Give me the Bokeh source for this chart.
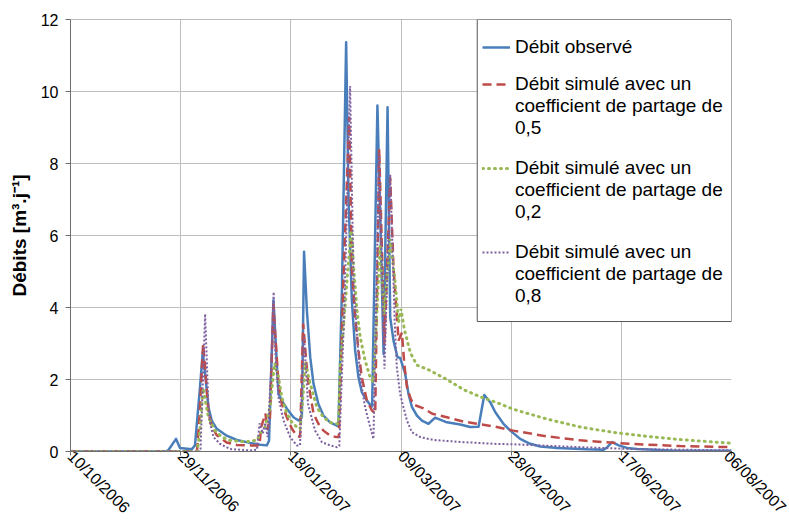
import math
from bokeh.plotting import figure
from bokeh.models import FixedTicker, Legend, LegendItem, BoxAnnotation, Span
from bokeh.embed import file_html
from bokeh.resources import INLINE

# x values: days since 10/10/2006
tick_days = [0, 50, 100, 150, 200, 250, 300]
tick_labels = ["10/10/2006", "29/11/2006", "18/01/2007", "09/03/2007",
               "28/04/2007", "17/06/2007", "06/08/2007"]
y_ticks = [0, 2, 4, 6, 8, 10, 12]

obs_day = [0, 43, 44.3, 47.9, 49.7, 55.0, 56.5, 58.8, 60.0, 61.1, 62.6, 64.1, 66.4, 70.9,
           75.5, 81.5, 86.1, 89.1, 90.1, 92.1, 92.9, 94.4, 95.9, 98.2, 101.2, 103.5, 105.0,
           106.0, 107.3, 108.8, 110.3, 112.5, 114.8, 117.8, 120.9, 121.6, 123.2, 125.1, 126.2,
           127.7, 129.2, 130.7, 132.2, 134.5, 136.0, 136.9, 139.3, 142.1, 143.9, 145.1, 146.6,
           148.4, 149.6, 151.9, 153.4, 155.0, 157.2, 159.5, 162.5, 165.5, 170.8, 176.9, 181.4,
           185.2, 187.8, 190.5, 192.8, 196.5, 199.6, 204.1, 207.9, 213.2, 220.8, 234.4, 242.0,
           243.6, 245.8, 248.8, 252.6, 257.1, 272.3, 300]
obs_val = [0, 0, 0.03, 0.35, 0.1, 0.06, 0.17, 1.8, 2.75, 2.16, 1.23, 0.86, 0.63, 0.44,
           0.32, 0.24, 0.19, 0.17, 0.3, 4.2, 3.3, 1.6, 1.42, 1.19, 0.95, 0.86, 0.95,
           5.55, 3.9, 2.62, 1.88, 1.32, 1.0, 0.81, 0.72, 0.7, 4.5, 11.37, 7.0,
           4.2, 2.8, 2.06, 1.65, 1.42, 1.3, 1.25, 9.61, 2.71, 9.56, 3.73, 3.08,
           2.62, 2.6, 2.16, 1.6, 1.23, 1.0, 0.86, 0.77, 0.94, 0.81, 0.75, 0.68,
           0.69, 1.57, 1.37, 1.09, 0.77, 0.58, 0.35, 0.23, 0.14, 0.1, 0.06, 0.05,
           0.12, 0.26, 0.17, 0.1, 0.07, 0.03, 0.02]

sim05_day = [0, 57.4, 58.6, 60.2, 61.5, 62.6, 64.1, 66.4, 70.9, 75.5, 82.0, 85.8, 86.5,
             88.5, 89.3, 90.5, 92.1, 92.9, 94.4, 95.9, 98.2, 100.5, 102.7, 104.2, 105.6,
             107.0, 108.0, 110.3, 112.5, 114.8, 117.8, 120.9, 121.8, 124.0, 126.5, 127.7,
             129.2, 130.7, 132.2, 134.5, 136.8, 138.3, 140.1, 142.5, 145.1, 146.6, 148.9,
             150.4, 151.5, 152.7, 154.2, 155.7, 160.2, 164.2, 170.8, 178.4, 185.9, 193.5,
             201.0, 216.3, 231.4, 246.5, 261.7, 276.8, 300]
sim05_val = [0, 0, 1.0, 3.0, 2.0, 1.1, 0.7, 0.45, 0.25, 0.18, 0.17, 0.17, 0.68,
             1.05, 0.6, 0.9, 4.1, 3.27, 1.88, 1.32, 0.95, 0.63, 0.44, 0.4, 3.55,
             2.5, 1.88, 1.05, 0.77, 0.58, 0.44, 0.4, 0.4, 5.0, 9.3, 5.12,
             3.73, 2.8, 2.06, 1.42, 1.14, 1.05, 8.4, 3.0, 7.6, 5.1, 3.08,
             3.3, 2.43, 1.79, 1.5, 1.3, 1.2, 1.05, 0.95, 0.83, 0.76, 0.68,
             0.58, 0.42, 0.31, 0.24, 0.19, 0.15, 0.12]

sim02_day = [0, 57.5, 58.8, 60.2, 62.6, 65.6, 68.7, 72.4, 77.0, 81.5, 84.6, 86.1, 88.3,
             90.6, 92.1, 92.7, 94.4, 95.9, 98.2, 100.5, 102.7, 104.2, 105.5, 106.5, 108.8,
             111.8, 114.8, 117.8, 120.9, 121.6, 122.4, 123.9, 125.4, 126.6, 127.3, 127.7,
             128.5, 130.0, 131.5, 133.7, 136.0, 137.5, 140.5, 142.3, 145.1, 147.4, 148.9,
             150.0, 151.5, 154.2, 157.2, 163.2, 170.8, 178.4, 185.9, 193.5, 201.1, 216.3,
             231.4, 246.5, 261.7, 276.8, 300]
sim02_val = [0, 0, 0.6, 1.75, 0.95, 0.58, 0.4, 0.31, 0.28, 0.28, 0.32, 0.49, 0.68,
             1.23, 2.16, 2.45, 2.06, 1.5, 1.05, 0.81, 0.68, 0.63, 1.5, 2.45, 1.88,
             1.23, 0.95, 0.81, 0.77, 0.77, 2.34, 3.45, 4.66, 5.58, 6.14, 6.05,
             5.12, 3.92, 3.17, 2.53, 2.06, 1.93, 5.7, 3.8, 5.9, 4.66, 3.6,
             3.96, 3.4, 2.75, 2.4, 2.25, 2.0, 1.72, 1.52, 1.36, 1.17, 0.9,
             0.68, 0.53, 0.42, 0.33, 0.23]

sim08_day = [0, 59.0, 60.1, 61.1, 61.9, 62.6, 63.4, 64.9, 67.9, 72.4, 81.5, 84.6, 85.8,
             87.3, 88.3, 89.5, 91.2, 92.2, 92.9, 94.4, 96.7, 99.7, 102.7, 104.2, 104.9,
             106.0, 107.8, 111.0, 114.1, 117.8, 120.9, 122.0, 124.3, 126.9, 128.5, 130.0,
             131.5, 133.7, 136.0, 137.5, 140.1, 142.5, 145.1, 147.2, 148.1, 149.6, 151.1,
             152.7, 154.9, 158.7, 164.8, 178.4, 193.5, 201.1, 231.4, 254.0, 300]
sim08_val = [0, 0, 2.0, 3.82, 2.43, 1.23, 0.77, 0.4, 0.21, 0.07, 0.03, 0.05, 0.78,
             0.5, 0.8, 0.4, 2.5, 4.43, 2.8, 1.5, 0.86, 0.4, 0.17, 0.17, 1.5,
             3.2, 1.32, 0.58, 0.26, 0.17, 0.12, 0.15, 4.0, 10.15, 4.66, 3.27,
             2.06, 1.23, 0.68, 0.35, 8.3, 2.3, 7.7, 3.5, 2.34, 1.6, 1.23,
             0.86, 0.54, 0.4, 0.32, 0.26, 0.21, 0.2, 0.12, 0.07, 0.03]

legend_labels = [
    "Débit observé",
    "Débit simulé avec un\ncoefficient de partage de\n0,5",
    "Débit simulé avec un\ncoefficient de partage de\n0,2",
    "Débit simulé avec un\ncoefficient de partage de\n0,8",
]

FONT = "Liberation Sans"

p = figure(width=789, height=525, output_backend="svg", toolbar_location=None,
           x_range=(0, 300), y_range=(0, 12),
           min_border_left=70, min_border_right=58, min_border_top=19, min_border_bottom=74)
p.outline_line_color = None
p.background_fill_color = "white"

r_obs = p.line(obs_day, obs_val, line_color="#4A7EBB", line_width=2.5, line_join="round")
r_05 = p.line(sim05_day, sim05_val, line_color="#BE4B48", line_width=2.5, line_dash="9 5")
r_02 = p.line(sim02_day, sim02_val, line_color="#98B954", line_width=3, line_dash="1 5",
              line_cap="round")
r_08 = p.line(sim08_day, sim08_val, line_color="#7D60A0", line_width=2, line_dash="2 2")

p.xaxis.ticker = FixedTicker(ticks=tick_days)
p.xaxis.major_label_overrides = {d: l for d, l in zip(tick_days, tick_labels)}
p.xaxis.major_label_orientation = -math.pi / 4
p.yaxis.ticker = FixedTicker(ticks=y_ticks)
for ax in (p.xaxis[0], p.yaxis[0]):
    ax.axis_line_color = "#6E6E6E"
    ax.major_tick_line_color = "#6E6E6E"
    ax.major_tick_in = 0
    ax.minor_tick_out = 0
    ax.minor_tick_in = 0
    ax.major_label_text_font = FONT
    ax.major_label_text_font_size = "16px"
    ax.major_label_text_color = "black"
p.xaxis.major_tick_out = 4
p.xaxis.major_label_standoff = -2
p.yaxis.major_tick_out = 5
p.yaxis.major_label_standoff = 7
p.yaxis.axis_label = "Débits [m³.j⁻¹]"
p.yaxis.axis_label_text_font = FONT
p.yaxis.axis_label_text_font_size = "19px"
p.yaxis.axis_label_text_font_style = "bold"
p.yaxis.axis_label_text_color = "black"
p.yaxis.axis_label_standoff = 8

p.xgrid.ticker = FixedTicker(ticks=tick_days)
p.ygrid.ticker = FixedTicker(ticks=y_ticks)
p.xgrid.grid_line_color = "#BEBEBE"
p.ygrid.grid_line_color = "#BEBEBE"
p.add_layout(Span(location=12, dimension="width", line_color="#7A7A7A", line_width=1))

# legend frame (decoration, in plot units)
p.add_layout(BoxAnnotation(left=184.6, right=300, bottom=3.61, top=12,
                           fill_color="white", fill_alpha=1,
                           line_color="#555555", line_width=1, line_alpha=1))

# one transparent legend per entry; leading blank lines put the sample on the first text line
legend_pos = [(412, 393), (412, 312), (412, 228), (412, 144)]
renderers = [r_obs, r_05, r_02, r_08]
for lab, r, pos in zip(legend_labels, renderers, legend_pos):
    nlines = lab.count("\n") + 1
    txt = "\n" * (nlines - 1) + lab
    lg = Legend(items=[LegendItem(label=txt, renderers=[r])], location=pos)
    lg.margin = 0
    lg.padding = 0
    lg.spacing = 0
    lg.glyph_width = 28
    lg.label_standoff = 5
    lg.label_text_font = FONT
    lg.label_text_font_size = "19px"
    lg.label_text_color = "black"
    lg.border_line_color = None
    lg.background_fill_alpha = 0
    p.add_layout(lg)

open("out.html", "w").write(file_html(p, INLINE))
